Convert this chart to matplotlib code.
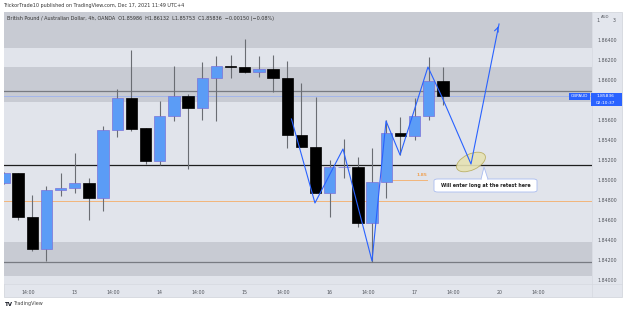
import matplotlib
matplotlib.use("Agg")
import matplotlib.pyplot as plt
from matplotlib.patches import Rectangle, Ellipse, FancyBboxPatch, Polygon
from matplotlib.transforms import ScaledTranslation
import numpy as np

# ---------------- data ----------------
opens = [1.8497, 1.8507, 1.8463, 1.8431, 1.8490, 1.8492, 1.8497, 1.8482, 1.8550, 1.8582,
         1.8552, 1.8519, 1.8564, 1.8584, 1.8572, 1.8602, 1.8614, 1.8613, 1.8608, 1.8611,
         1.8602, 1.8545, 1.8533, 1.8487, 1.8513, 1.8513, 1.8457, 1.8498, 1.8547, 1.8544,
         1.8564, 1.85986]
highs = [1.8508, 1.8507, 1.8485, 1.8494, 1.8507, 1.8527, 1.8502, 1.8554, 1.8591, 1.8630,
         1.8552, 1.8579, 1.8614, 1.8586, 1.8618, 1.8624, 1.8625, 1.8641, 1.8624, 1.8625,
         1.8619, 1.8597, 1.8583, 1.8520, 1.8541, 1.8523, 1.8532, 1.8560, 1.8563, 1.8582,
         1.8623, 1.86132]
lows = [1.8496, 1.8460, 1.8429, 1.8419, 1.8484, 1.8487, 1.8460, 1.8469, 1.8543, 1.8549,
        1.8516, 1.8515, 1.8559, 1.8511, 1.8560, 1.8559, 1.8602, 1.8607, 1.8603, 1.8588,
        1.8532, 1.8533, 1.8487, 1.8463, 1.8502, 1.8453, 1.8418, 1.8482, 1.8525, 1.8540,
        1.8560, 1.85753]
closes = [1.8507, 1.8463, 1.8431, 1.8490, 1.8492, 1.8497, 1.8482, 1.8550, 1.8582, 1.8551,
          1.8519, 1.8564, 1.8584, 1.8572, 1.8602, 1.8614, 1.8613, 1.8608, 1.8611, 1.8602,
          1.8545, 1.8533, 1.8487, 1.8513, 1.8513, 1.8457, 1.8498, 1.8547, 1.8544, 1.8564,
          1.8599, 1.85836]

time_tick_pos = [1.7, 5, 7.7, 11, 13.7, 17, 19.7, 23, 25.7, 29, 31.7, 35, 37.7]
time_tick_labels = ["14:00", "13", "14:00", "14", "14:00", "15", "14:00", "16",
                    "14:00", "17", "14:00", "20", "14:00"]
price_ticks = [1.840, 1.842, 1.844, 1.846, 1.848, 1.850, 1.852, 1.854, 1.856, 1.860, 1.862, 1.864]

# zones (price ranges)
zones = [(1.8632, 1.8680), (1.8578, 1.8613), (1.8404, 1.8438)]
gray_levels = [1.8589, 1.8418]
black_level = 1.8515
orange_level = 1.8479
current_price = 1.85836

# projection path drawn on chart (candle index, price)
path_idx = [20.3, 21.96, 23.94, 25.99, 26.98, 27.97, 29.94, 30.93, 32.98]
path_price = [1.8561, 1.8477, 1.8531, 1.8419, 1.8559, 1.8525, 1.8613, 1.8583, 1.8516]
arrow_tip = (34.96, 1.8656)

# ---------------- figure ----------------
W, H = 625, 312
fig = plt.figure(figsize=(W / 100, H / 100), dpi=100)
fig.patch.set_facecolor("white")
plt.rcParams['font.family'] = ['DejaVu Sans']

def fx(x):
    return x / W

def fy(y):
    return 1 - y / H

LIGHT = "#e1e4eb"
DARK = "#c8cbd3"

# chart background (plot + axes strip)
fig.patches.append(Rectangle((fx(4), fy(297)), (622 - 4) / W, (297 - 12) / H,
                             transform=fig.transFigure, facecolor="#e3e6ed",
                             edgecolor="#d4d7de", lw=0.6, zorder=-5))

ax = fig.add_axes([fx(4), fy(284), (592 - 4) / W, (284 - 12) / H])
ax.set_facecolor(LIGHT)
step = 14.16
ax.set_xlim(0, 588 / step)
ax.set_ylim(1.8396, 1.8668)
for s in ax.spines.values():
    s.set_visible(False)

for lo_, hi_ in zones:
    ax.axhspan(lo_, hi_, color=DARK, lw=0, zorder=0)
for lvl in gray_levels:
    ax.axhline(lvl, color="#787b82", lw=0.9, zorder=1)
ax.axhline(black_level, color="#1e1e1e", lw=0.9, zorder=1)
ax.axhline(orange_level, color="#f2b57a", lw=0.7, zorder=1)
ax.axhline(current_price, color="#9db2ee", lw=0.6, zorder=1)

# candles
x = np.arange(len(opens))
o = np.array(opens); c = np.array(closes)
hi = np.array(highs); lo = np.array(lows)
up = c >= o
ax.vlines(x, lo, hi, color="#6a6d73", lw=0.8, zorder=2)
bottoms = np.minimum(o, c)
heights = np.maximum(np.abs(c - o), 0.00004)
ax.bar(x[up], heights[up], bottom=bottoms[up], width=0.8, color="#5b9cf6",
       edgecolor="#7a72d8", lw=0.5, zorder=3)
ax.bar(x[~up], heights[~up], bottom=bottoms[~up], width=0.8, color="#000000",
       edgecolor="#000000", lw=0.5, zorder=3)

# short orange level with label
ax.plot([27.3, 29.9], [1.8500, 1.8500], color="#f2b57a", lw=0.7, zorder=2)
ax.text(29.9, 1.85025, "1.85", color="#f0a050", fontsize=3.2, ha="right", va="bottom",
        zorder=4, fontweight="bold")

# projection path
ax.plot(path_idx + [arrow_tip[0]], path_price + [arrow_tip[1]], color="#2962ff",
        lw=0.8, zorder=5)
ax.annotate("", xy=arrow_tip, xytext=(arrow_tip[0] - 0.15, arrow_tip[1] - 0.0006),
            arrowprops=dict(arrowstyle="->", color="#2962ff", lw=0.8,
                            mutation_scale=7), zorder=5)

# ellipse around retest
ell_tr = fig.dpi_scale_trans + ScaledTranslation(32.98, 1.8518, ax.transData)
ax.add_patch(Ellipse((0, 0), 0.31, 0.16, angle=25, transform=ell_tr,
                     facecolor="#e6e2b4", edgecolor="#b8ac5c", lw=0.6, zorder=4,
                     alpha=0.9))

# ticks
ax.set_xticks(time_tick_pos)
ax.set_xticklabels(time_tick_labels, fontsize=3.4, color="#50535a")
ax.tick_params(axis="x", length=0, pad=4.2)
ax.yaxis.tick_right()
ax.set_yticks(price_ticks)
ax.set_yticklabels([f"{p:.5f}" for p in price_ticks], fontsize=3.4, color="#50535a")
ax.tick_params(axis="y", length=0, pad=4)

# separators
fig.lines.append(plt.Line2D([fx(592), fx(592)], [fy(12), fy(297)], transform=fig.transFigure,
                            color="#d6d9e0", lw=0.5))
fig.lines.append(plt.Line2D([fx(4), fx(622)], [fy(284), fy(284)], transform=fig.transFigure,
                            color="#d6d9e0", lw=0.5))

# top price label with AUD
fig.text(fx(596), fy(20), "1.", fontsize=3.4, color="#50535a", va="center")
fig.text(fx(601), fy(17.5), "AUD", fontsize=2.8, color="#50535a", va="center")
fig.text(fx(613), fy(20), "3", fontsize=3.4, color="#50535a", va="center")

# header texts
fig.text(fx(3), fy(5), "TrickorTrade10 published on TradingView.com, Dec 17, 2021 11:49 UTC+4",
         fontsize=3.5, color="#333333", va="center")
fig.text(fx(7), fy(18.5), "British Pound / Australian Dollar, 4h, OANDA  O1.85986  H1.86132  "
         "L1.85753  C1.85836  \u22120.00150 (\u22120.08%)",
         fontsize=3.5, color="#333333", va="center")

# callout box
box = FancyBboxPatch((fx(434), fy(192)), (537 - 434) / W, (192 - 179) / H,
                     boxstyle="round,pad=0,rounding_size=0.006", transform=fig.transFigure,
                     facecolor="white", edgecolor="#a9bcf0", lw=0.6, zorder=6)
fig.patches.append(box)
tri = Polygon([(fx(481), fy(179.3)), (fx(484), fy(167)), (fx(488), fy(179.3))],
              closed=False, transform=fig.transFigure, facecolor="white",
              edgecolor="#a9bcf0", lw=0.6, zorder=7)
fig.patches.append(tri)
fig.patches.append(Rectangle((fx(481.6), fy(179.9)), 5.8 / W, 1.2 / H, transform=fig.transFigure,
                             facecolor="white", edgecolor="none", zorder=8))
fig.text(fx(485.5), fy(185.5), "Will enter long at the retest here", fontsize=3.4,
         fontweight="bold", color="#1e1e1e", ha="center", va="center", zorder=9)

# price tags
fig.patches.append(Rectangle((fx(568.5), fy(99.5)), 21 / W, 6.3 / H, transform=fig.transFigure,
                             facecolor="#2962ff", edgecolor="none", zorder=6))
fig.text(fx(579), fy(96.3), "GBPAUD", fontsize=3.0, color="white", ha="center",
         va="center", zorder=7)
fig.patches.append(Rectangle((fx(590.5), fy(106)), 31 / W, 12.7 / H, transform=fig.transFigure,
                             facecolor="#2962ff", edgecolor="none", zorder=6))
fig.text(fx(605.5), fy(96.3), "1.85836", fontsize=3.2, color="white", ha="center",
         va="center", zorder=7)
fig.text(fx(605.5), fy(102.6), "02:10:37", fontsize=3.2, color="white", ha="center",
         va="center", zorder=7)

# footer logo
fig.text(fx(5), fy(304), "TV", fontsize=4, fontweight="bold", color="#131722", va="center")
fig.text(fx(13.5), fy(304), "TradingView", fontsize=3.5, color="#444444", va="center")

fig.savefig("out.png", dpi=100, facecolor="white")
